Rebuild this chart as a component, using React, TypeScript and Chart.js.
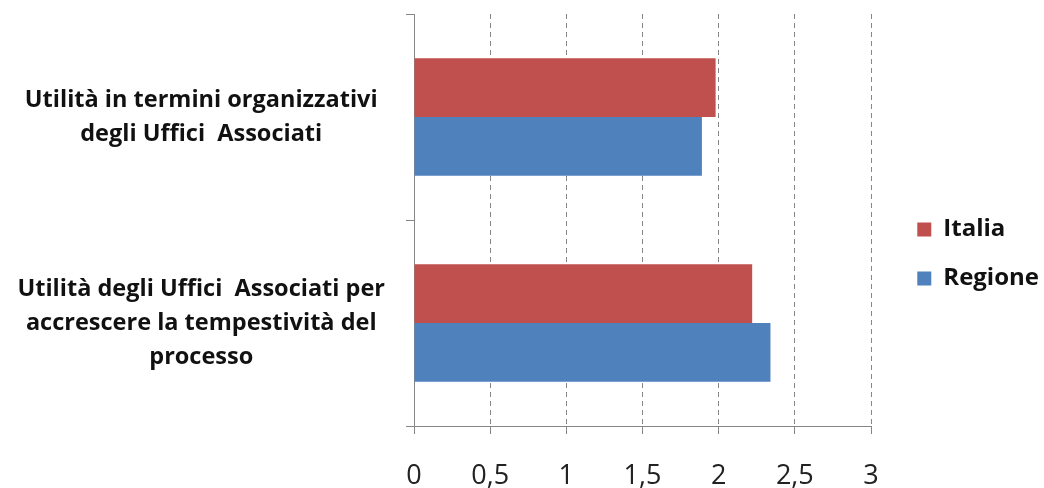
import React, { useEffect, useRef } from "react";
import { Chart, registerables, layouts } from "chart.js";

Chart.register(...registerables);

const categories: string[][] = [
  ["Utilità in termini organizzativi", "degli Uffici  Associati"],
  ["Utilità degli Uffici  Associati per", "accrescere la tempestività del", "processo"],
];
const italia: number[] = [1.98, 2.22];
const regione: number[] = [1.89, 2.34];
const seriesNames: string[] = ["Italia", "Regione"];
const xTickValues: number[] = [0, 0.5, 1, 1.5, 2, 2.5, 3];

const RED = "#C0504D";
const BLUE = "#4F81BD";
const AXIS = "#868686";

const spacerPlugin = {
  id: "rightSpacer",
  beforeInit(chart: any) {
    const box: any = {
      position: "right",
      weight: 500,
      fullSize: false,
      options: {},
      left: 0, top: 0, right: 0, bottom: 0, width: 0, height: 0,
      isHorizontal() { return false; },
      update(maxWidth: number, maxHeight: number) {
        const lw = chart.legend && chart.legend.width ? chart.legend.width : 0;
        this.width = Math.max(0, 178 - lw);
        this.height = maxHeight;
      },
      draw() {},
    };
    layouts.addBox(chart, box);
  },
};

export default function App() {
  const ref = useRef<HTMLCanvasElement | null>(null);
  useEffect(() => {
    if (!ref.current) return;
    const chart = new Chart(ref.current, {
      type: "bar",
      data: {
        labels: categories,
        datasets: [
          { label: seriesNames[0], data: italia, backgroundColor: RED, borderWidth: 0 },
          { label: seriesNames[1], data: regione, backgroundColor: BLUE, borderWidth: 0 },
        ],
      },
      options: {
        indexAxis: "y",
        animation: false,
        responsive: true,
        maintainAspectRatio: false,
        layout: { padding: { top: 14, left: 0, right: -5, bottom: 0 } },
        datasets: { bar: { categoryPercentage: 0.57, barPercentage: 1 } },
        plugins: {
          tooltip: { enabled: false },
          legend: {
            position: "right",
            title: { display: true, text: " ", padding: 0, font: { size: 5, lineHeight: 1.2 } },
            labels: {
              boxWidth: 14,
              boxHeight: 14,
              padding: 25,
              color: "#111",
              font: { family: "'Open Sans', sans-serif", size: 24, weight: "bold" },
            },
          },
        },
        scales: {
          x: {
            min: 0,
            max: 3,
            afterBuildTicks: (scale: any) => {
              scale.ticks = xTickValues.map((v) => ({ value: v }));
            },
            afterFit: (scale: any) => {
              scale.height = 62;
            },
            ticks: {
              padding: 26,
              color: "#222",
              font: { family: "'Open Sans', sans-serif", size: 27 },
              callback: (v: any) => String(v).replace(".", ","),
            },
            grid: {
              color: AXIS,
              lineWidth: 1,
              drawTicks: true,
              tickLength: 8,
              tickColor: AXIS,
            },
            border: { display: true, color: AXIS, width: 1, dash: [5, 4] },
          },
          y: {
            afterFit: (scale: any) => {
              scale.width = 414;
              scale.paddingTop = 0;
              scale.paddingBottom = 0;
            },
            ticks: {
              padding: 21,
              crossAlign: "center",
              color: "#111",
              font: { family: "'Open Sans', sans-serif", size: 23.5, weight: "bold", lineHeight: 1.45 },
            },
            grid: {
              offset: true,
              drawOnChartArea: false,
              drawTicks: true,
              tickLength: 8,
              tickColor: AXIS,
              color: AXIS,
            },
            border: { display: true, color: AXIS, width: 1 },
          },
        },
      },
      plugins: [spacerPlugin],
    } as any);
    return () => chart.destroy();
  }, []);
  return (
    <div style={{ position: "fixed", left: 0, top: 0, width: 1044, height: 488, background: "#fff" }}>
      <canvas ref={ref} />
    </div>
  );
}
